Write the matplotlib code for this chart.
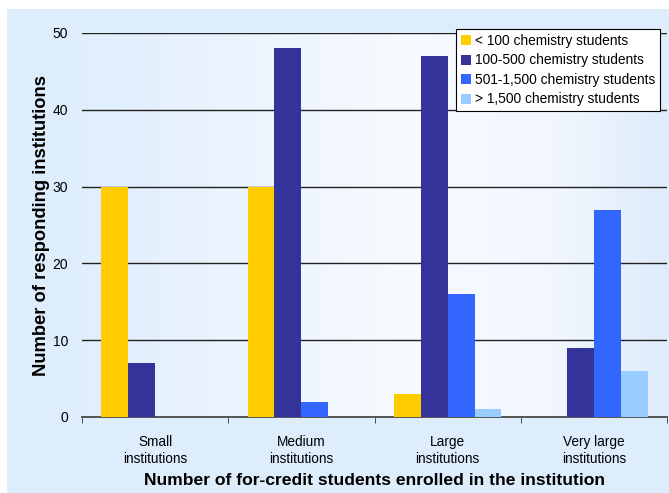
import numpy as np
import matplotlib.pyplot as plt
from matplotlib.colors import LinearSegmentedColormap
from matplotlib.patches import Rectangle

plt.rcParams['font.family'] = ['Liberation Sans', 'DejaVu Sans']

# institution size groups and survey counts per chemistry-enrollment band
categories = ["Small\ninstitutions", "Medium\ninstitutions", "Large\ninstitutions", "Very large\ninstitutions"]
series_names = ["< 100 chemistry students", "100-500 chemistry students",
                "501-1,500 chemistry students", "> 1,500 chemistry students"]
under_100 = [30, 30, 3, 0]
from_100_500 = [7, 48, 47, 9]
from_501_1500 = [0, 2, 16, 27]
over_1500 = [0, 0, 1, 6]
colors = ["#FFCC00", "#333399", "#3366FF", "#99CCFF"]

fig = plt.figure(figsize=(6.69, 4.93), dpi=100)
fig.patch.set_facecolor("white")
# light blue panel behind everything
fig.patches.append(Rectangle((7 / 669, 0), 1, 1 - 9 / 493, transform=fig.transFigure,
                             facecolor="#DDEDFC", edgecolor="none", zorder=-10))

ax = fig.add_axes([82 / 669, 1 - 417 / 493, (667 - 82) / 669, (417 - 33) / 493])
ax.set_facecolor("none")

# soft horizontal gradient inside the plotting area
grad = np.linspace(0, 1, 256).reshape(1, -1)
bg_cmap = LinearSegmentedColormap.from_list(
    "bg", [(0, "#E0EEFD"), (0.55, "#F7FAFF"), (0.8, "#F2F7FF"), (1, "#DFECFB")])
ax.imshow(grad, extent=[0, 1, 0, 1], transform=ax.transAxes, aspect="auto",
          cmap=bg_cmap, zorder=0)

x = np.arange(len(categories))
width = 0.184
values = [under_100, from_100_500, from_501_1500, over_1500]
for i, (vals, name, c) in enumerate(zip(values, series_names, colors)):
    ax.bar(x + (i - 1.5) * width, vals, width, color=c, label=name, zorder=3)

ax.set_xlim(-0.5, len(categories) - 0.5)
ax.set_ylim(0, 50)
ax.set_yticks(range(0, 51, 10))
ax.yaxis.grid(True, color="#222222", linewidth=1.0)
for ln in ax.get_ygridlines():
    ln.set_zorder(1)

ax.set_xticks(x)
ax.set_xticklabels(categories, fontsize=9.8, linespacing=1.25)
ax.set_xticks(np.arange(-0.5, len(categories)), minor=True)
ax.tick_params(axis="x", which="major", length=0, pad=12.8)
ax.tick_params(axis="x", which="minor", length=4, color="#333333")
ax.tick_params(axis="y", length=0, labelsize=10, pad=10)

for s in ["top", "right", "left"]:
    ax.spines[s].set_visible(False)
ax.spines["bottom"].set_color("#555555")
ax.spines["bottom"].set_linewidth(1.4)

ax.set_ylabel("Number of responding institutions", fontsize=13.2, fontweight="bold", labelpad=1.5)
ax.set_xlabel("Number of for-credit students enrolled in the institution", fontsize=12.6,
              fontweight="bold", labelpad=5.3)

leg = ax.legend(loc="upper right", bbox_to_anchor=(0.988, 1.01), fontsize=9.9, frameon=True,
                fancybox=False, framealpha=1, edgecolor="black", handlelength=0.75,
                handleheight=0.75, handletextpad=0.25, borderpad=0.35, labelspacing=0.4,
                borderaxespad=0)
leg.get_frame().set_linewidth(0.8)
leg.set_zorder(5)

fig.savefig("out.png", dpi=100)
